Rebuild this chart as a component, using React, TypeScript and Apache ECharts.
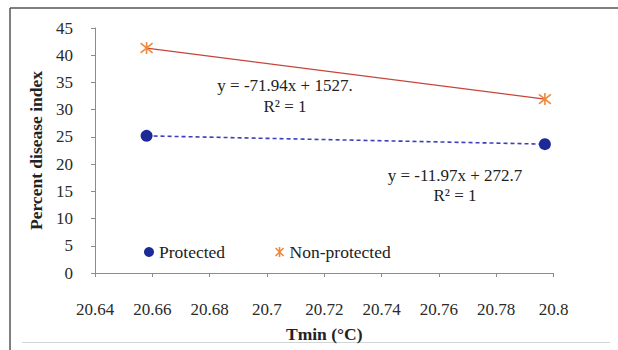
import React, { useEffect, useRef } from "react";
import * as echarts from "echarts";

// Minimum temperature (°C) and percent disease index for the two crop groups
const protectedTmin = [20.658, 20.797];
const protectedPdi = [25.19, 23.67];
const nonProtectedTmin = [20.658, 20.797];
const nonProtectedPdi = [41.32, 31.94];

const seriesNames = ["Protected", "Non-protected"];
const equationNonProtected = ["y = -71.94x + 1527.", "R² = 1"];
const equationProtected = ["y = -11.97x + 272.7", "R² = 1"];

const xAxisTitle = "Tmin (°C)";
const yAxisTitle = "Percent disease index";

const FONT = "Liberation Serif";
const STAR = "path://M1,1L9,9M9,1L1,9M5,0L5,10";
const ORANGE = "#f0883a";
const NAVY = "#1c2a98";

export default function App() {
  const ref = useRef<HTMLDivElement>(null);

  useEffect(() => {
    document.body.style.margin = "0";
    if (!ref.current) return;
    const chart = echarts.init(ref.current, null, { renderer: "svg" });

    const pairs = (xs: number[], ys: number[]) => xs.map((x, i) => [x, ys[i]]);

    chart.setOption({
      animation: false,
      backgroundColor: "#ffffff",
      textStyle: { fontFamily: FONT },
      grid: { left: 95, right: 64.5, top: 28, bottom: 77, containLabel: false },
      xAxis: {
        type: "value",
        min: 20.64,
        max: 20.8,
        interval: 0.02,
        name: xAxisTitle,
        nameLocation: "middle",
        nameGap: 52,
        nameTextStyle: { fontFamily: FONT, fontSize: 17.5, fontWeight: "bold", color: "#222" },
        axisLine: { onZero: false, lineStyle: { color: "#8c8c8c", width: 1 } },
        axisTick: { show: true, length: 4, lineStyle: { color: "#8c8c8c" } },
        splitLine: { show: false },
        axisLabel: {
          margin: 28,
          fontFamily: FONT,
          fontSize: 17,
          color: "#2a2a2a",
          formatter: (v: number) => String(parseFloat(v.toFixed(2))),
        },
      },
      yAxis: {
        type: "value",
        min: 0,
        max: 45,
        interval: 5,
        name: yAxisTitle,
        nameLocation: "middle",
        nameGap: 48,
        nameTextStyle: { fontFamily: FONT, fontSize: 17.5, fontWeight: "bold", color: "#222" },
        axisLine: { show: true, lineStyle: { color: "#8c8c8c", width: 1 } },
        axisTick: { show: true, length: 4, lineStyle: { color: "#8c8c8c" } },
        splitLine: { show: false },
        axisLabel: { margin: 22, fontFamily: FONT, fontSize: 17, color: "#2a2a2a" },
      },
      legend: {
        left: 139,
        top: 238,
        itemGap: 48,
        itemWidth: 10,
        itemHeight: 10,
        textStyle: { fontFamily: FONT, fontSize: 17.5, color: "#222" },
        data: [
          { name: seriesNames[0], icon: "circle", itemStyle: { color: NAVY } },
          {
            name: seriesNames[1],
            icon: STAR,
            itemStyle: { color: "none", borderColor: ORANGE, borderWidth: 1.6 },
          },
        ],
      },
      series: [
        {
          name: seriesNames[0],
          type: "line",
          data: pairs(protectedTmin, protectedPdi),
          symbol: "circle",
          symbolSize: 12,
          itemStyle: { color: NAVY, borderWidth: 0 },
          lineStyle: { color: "#3b40b8", width: 1.6, type: [4, 3] },
          z: 3,
        },
        {
          name: seriesNames[1],
          type: "line",
          data: pairs(nonProtectedTmin, nonProtectedPdi),
          symbol: STAR,
          symbolSize: 12,
          itemStyle: { color: "none", borderColor: ORANGE, borderWidth: 1.6 },
          lineStyle: { color: "#c8443a", width: 1.3 },
          z: 3,
        },
      ],
      graphic: [
        // frame around the figure
        { type: "line", shape: { x1: 10, y1: 8, x2: 618, y2: 8 }, style: { stroke: "#555", lineWidth: 1.5 } },
        { type: "line", shape: { x1: 10, y1: 8, x2: 10, y2: 350 }, style: { stroke: "#555", lineWidth: 1.5 } },
        { type: "line", shape: { x1: 22, y1: 342.5, x2: 610, y2: 342.5 }, style: { stroke: "#d4d4d4", lineWidth: 1 } },
        {
          type: "text",
          x: 285,
          y: 75,
          style: {
            text: equationNonProtected.join("\n"),
            fontFamily: FONT,
            fontSize: 17,
            lineHeight: 21,
            fill: "#222",
            align: "center",
          },
        },
        {
          type: "text",
          x: 455,
          y: 165,
          style: {
            text: equationProtected.join("\n"),
            fontFamily: FONT,
            fontSize: 17,
            lineHeight: 20,
            fill: "#222",
            align: "center",
          },
        },
      ],
    });

    return () => chart.dispose();
  }, []);

  return <div ref={ref} style={{ width: 618, height: 350 }} />;
}
